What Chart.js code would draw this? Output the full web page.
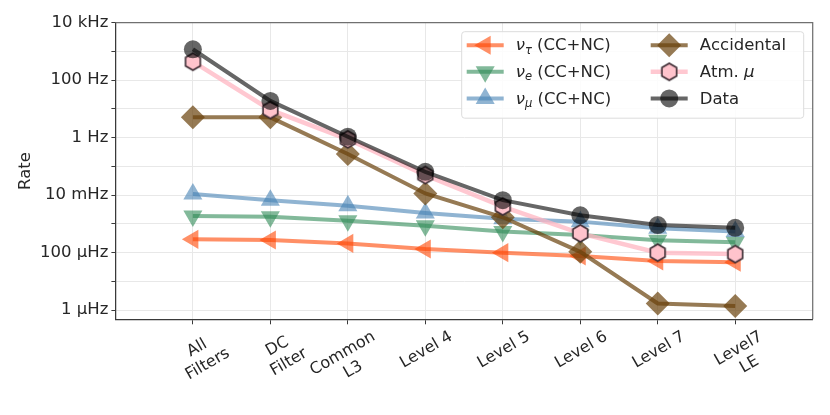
<!DOCTYPE html>
<html>

<head>
  <title>Rate per filter level</title>
  <script src="https://cdn.jsdelivr.net/npm/chart.js@4.4.0/dist/chart.umd.min.js"></script>
  <style>
    html, body { margin: 0; padding: 0; background: #fff; }
    #rateChart { display: block; }
  </style>
</head>

<body>
  <canvas id="rateChart" width="830" height="415"></canvas>

  <script>
    // x categories (filter levels)
    const levels = [['All', 'Filters'], ['DC', 'Filter'], ['Common', 'L3'], 'Level 4', 'Level 5', 'Level 6', 'Level 7', ['Level7', 'LE']];

    // rates in Hz
    const nuTau = [2.9e-4, 2.75e-4, 2.1e-4, 1.33e-4, 1.0e-4, 7.6e-5, 5.1e-5, 4.6e-5];
    const nuE = [1.87e-3, 1.78e-3, 1.3e-3, 8.6e-4, 5.4e-4, 4.1e-4, 2.7e-4, 2.3e-4];
    const nuMu = [1.09e-2, 6.7e-3, 4.3e-3, 2.4e-3, 1.5e-3, 1.2e-3, 7.0e-4, 5.4e-4];
    const accidental = [5.1, 5.1, 0.27, 1.15e-2, 1.7e-3, 1.07e-4, 1.7e-6, 1.38e-6];
    const atmMu = [440, 9.2, 0.88, 5.0e-2, 4.0e-3, 4.7e-4, 1.0e-4, 8.9e-5];
    const dataRate = [1190, 19, 1.08, 6.5e-2, 6.7e-3, 2.0e-3, 9.1e-4, 7.3e-4];

    // y axis: labelled ticks every two decades, grid every decade
    const yTickValues = [1e4, 1e2, 1, 1e-2, 1e-4, 1e-6];
    const yTickLabels = ['10 kHz', '100 Hz', '1 Hz', '10 mHz', '100 μHz', '1 μHz'];
    const yGridExponents = [4, 3, 2, 1, 0, -1, -2, -3, -4, -5, -6];

    const FONT = '"DejaVu Sans", sans-serif';
    const TEXT = '#262626';
    const AXIS = '#3a3a3a';
    const GRID = '#e8e8e8';
    const X_FONT_SIZE = 16;

    // centre the lines of a multi-line tick label (chart.js right-aligns rotated lines)
    const measureCtx = document.createElement('canvas').getContext('2d');
    measureCtx.font = X_FONT_SIZE + 'px ' + FONT;
    function centerLines(lines) {
      if (!Array.isArray(lines)) return lines;
      const widths = lines.map(t => measureCtx.measureText(t).width);
      const maxW = Math.max(...widths);
      const sp = measureCtx.measureText(' ').width;
      return lines.map((t, i) => t + ' '.repeat(Math.round((maxW - widths[i]) / 2 / sp)));
    }

    function hexagonMarker(r, fill, stroke) {
      const c = document.createElement('canvas');
      const s = Math.ceil(2 * r + 4);
      c.width = s;
      c.height = s;
      const g = c.getContext('2d');
      g.beginPath();
      for (let k = 0; k < 6; k++) {
        const a = -Math.PI / 2 + k * Math.PI / 3;
        const px = s / 2 + r * Math.cos(a);
        const py = s / 2 + r * Math.sin(a);
        if (k) g.lineTo(px, py); else g.moveTo(px, py);
      }
      g.closePath();
      g.fillStyle = fill;
      g.fill();
      g.lineWidth = 1.6;
      g.strokeStyle = stroke;
      g.stroke();
      return c;
    }

    const series = [
      { label: 'ν_τ (CC+NC)', values: nuTau, line: 'rgba(255,69,0,0.6)', style: 'triangle', rotation: -90, radius: 11, width: 4, order: 5 },
      { label: 'ν_e (CC+NC)', values: nuE, line: 'rgba(46,139,87,0.6)', style: 'triangle', rotation: 180, radius: 11, width: 4, order: 4 },
      { label: 'ν_μ (CC+NC)', values: nuMu, line: 'rgba(70,130,180,0.6)', style: 'triangle', rotation: 0, radius: 11, width: 4, order: 3 },
      { label: 'Accidental', values: accidental, line: 'rgba(105,66,12,0.7)', style: 'rectRot', rotation: 0, radius: 12, width: 4, order: 2 },
      { label: 'Atm. μ', values: atmMu, line: 'rgba(255,182,193,0.75)', style: hexagonMarker(8.5, '#ffc3cc', '#3d2c33'), rotation: 0, radius: 9, width: 4.5, order: 1 },
      { label: 'Data', values: dataRate, line: 'rgba(0,0,0,0.6)', style: 'circle', rotation: 0, radius: 9, width: 4, order: 0 },
    ];

    const datasets = series.map(s => ({
      label: s.label,
      data: s.values.map((v, i) => ({ x: i, y: v })),
      borderColor: s.line,
      borderWidth: s.width,
      backgroundColor: s.line,
      pointStyle: s.style,
      pointRotation: s.rotation,
      pointRadius: s.radius,
      pointBorderWidth: 0,
      pointBackgroundColor: s.line,
      order: s.order,
    }));

    // draws "ν_τ" style labels: greek letters and subscripts in italic
    function drawRich(ctx, text, x, y, size) {
      for (let i = 0; i < text.length; i++) {
        let ch = text[i];
        let sub = false;
        if (ch === '_') { sub = true; ch = text[++i]; }
        const italic = sub || /[α-ω]/.test(ch);
        const fs = sub ? size * 0.7 : size;
        ctx.font = (italic ? 'italic ' : '') + fs + 'px ' + FONT;
        ctx.fillText(ch, x, sub ? y + size * 0.28 : y);
        x += ctx.measureText(ch).width;
      }
    }

    // legend in two columns inside the upper right of the plot
    const insideLegend = {
      id: 'insideLegend',
      afterDatasetsDraw(chart) {
        const { ctx, chartArea } = chart;
        const w = 342, h = 86.5;
        const left = chartArea.right - 9 - w;
        const top = chartArea.top + 9;
        ctx.save();
        ctx.beginPath();
        ctx.roundRect(left, top, w, h, 3);
        ctx.fillStyle = 'rgba(255,255,255,0.85)';
        ctx.fill();
        ctx.lineWidth = 1;
        ctx.strokeStyle = '#dcdcdc';
        ctx.stroke();
        ctx.textBaseline = 'middle';
        ctx.textAlign = 'left';
        series.forEach((s, i) => {
          const col = Math.floor(i / 3), row = i % 3;
          const hx = left + 5 + col * 184;
          const hy = top + 13.5 + row * 26.6;
          ctx.beginPath();
          ctx.moveTo(hx, hy);
          ctx.lineTo(hx + 37, hy);
          ctx.lineWidth = s.width;
          ctx.strokeStyle = s.line;
          ctx.stroke();
          ctx.fillStyle = s.line;
          Chart.helpers.drawPoint(ctx, { pointStyle: s.style, rotation: s.rotation, radius: s.radius, borderWidth: 0 }, hx + 18.5, hy);
          ctx.fillStyle = TEXT;
          drawRich(ctx, s.label, hx + 49, hy + 1, 16.5);
        });
        ctx.restore();
      }
    };

    // top and right spines
    const frame = {
      id: 'frame',
      beforeDatasetsDraw(chart) {
        const { ctx, chartArea: a } = chart;
        ctx.save();
        ctx.strokeStyle = '#707070';
        ctx.lineWidth = 1.25;
        ctx.beginPath();
        ctx.moveTo(a.left, a.top);
        ctx.lineTo(a.right, a.top);
        ctx.lineTo(a.right, a.bottom);
        ctx.stroke();
        ctx.restore();
      }
    };

    const ctx = document.getElementById('rateChart').getContext('2d');
    new Chart(ctx, {
      type: 'line',
      data: { datasets: datasets },
      options: {
        responsive: false,
        animation: false,
        layout: { padding: { top: 22.7, right: 17.3, left: 0, bottom: 0 } },
        plugins: {
          legend: { display: false },
          tooltip: { enabled: false },
        },
        scales: {
          x: {
            type: 'linear',
            min: -1,
            max: 8,
            afterBuildTicks: s => { s.ticks = levels.map((_, i) => ({ value: i })); },
            afterFit: s => { s.height = 95.7; },
            ticks: {
              callback: v => centerLines(levels[v]),
              minRotation: 30,
              maxRotation: 30,
              labelOffset: 26,
              autoSkip: false,
              padding: 3,
              color: TEXT,
              font: { family: FONT, size: X_FONT_SIZE },
            },
            grid: { color: GRID, tickColor: AXIS, tickLength: 5 },
            border: { color: AXIS, width: 1.25 },
          },
          y: {
            type: 'logarithmic',
            min: 4.8e-7,
            max: 1e4,
            afterBuildTicks: s => { s.ticks = yGridExponents.map(e => ({ value: Math.pow(10, e) })); },
            afterFit: s => { s.width = 115.4; },
            ticks: {
              autoSkip: false,
              padding: 3,
              color: TEXT,
              font: { family: FONT, size: 16.5 },
              callback: v => {
                const k = yTickValues.findIndex(t => Math.abs(Math.log10(t) - Math.log10(v)) < 1e-6);
                return k < 0 ? '' : yTickLabels[k];
              },
            },
            grid: { color: GRID, tickColor: AXIS, tickLength: 4 },
            border: { color: AXIS, width: 1.25 },
            title: {
              display: true,
              text: 'Rate',
              color: TEXT,
              font: { family: FONT, size: 16.5 },
              padding: { top: 16, bottom: 0 },
            },
          },
        },
      },
      plugins: [frame, insideLegend],
    });
  </script>
</body>

</html>
